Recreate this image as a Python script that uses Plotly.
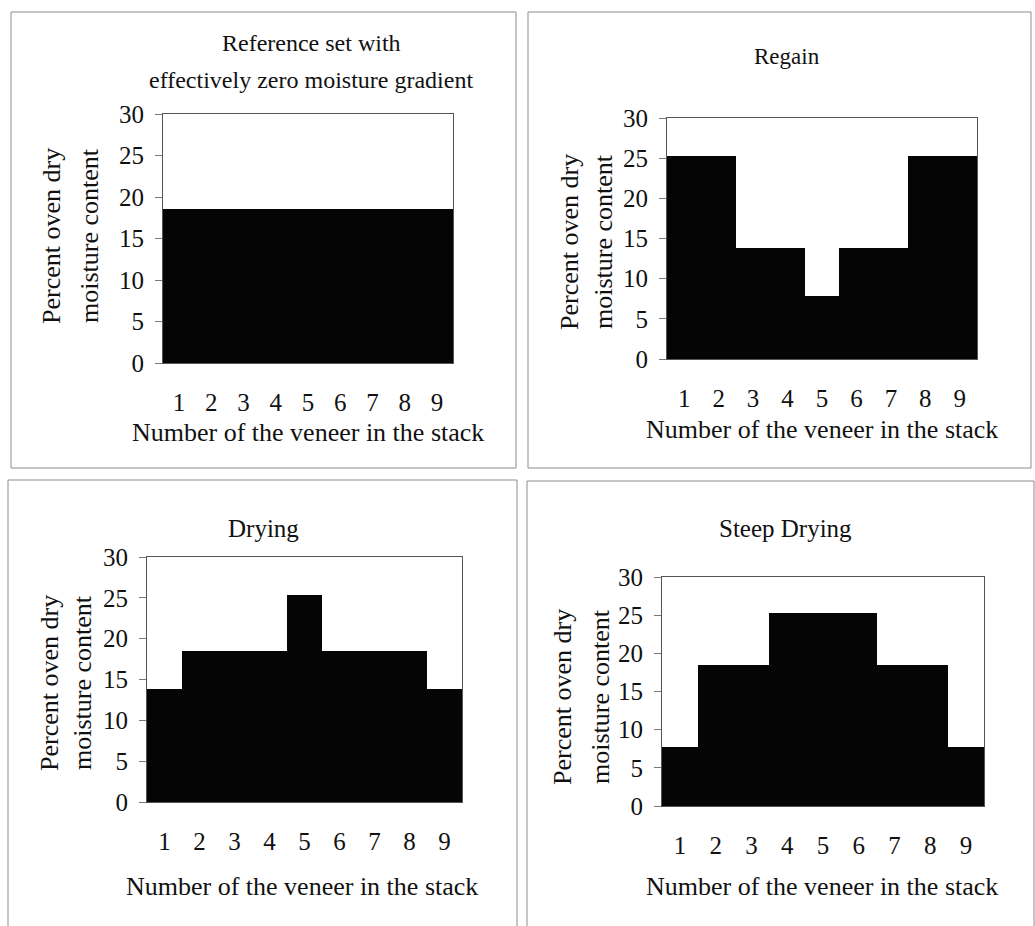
import plotly.graph_objects as go

# Moisture content (percent oven dry) of each veneer in a nine-veneer stack
veneer_number = [1, 2, 3, 4, 5, 6, 7, 8, 9]
reference_mc = [18.5, 18.5, 18.5, 18.5, 18.5, 18.5, 18.5, 18.5, 18.5]
regain_mc = [25.3, 25.3, 13.8, 13.8, 7.8, 13.8, 13.8, 25.3, 25.3]
drying_mc = [13.8, 18.5, 18.5, 18.5, 25.3, 18.5, 18.5, 18.5, 13.8]
steep_drying_mc = [7.7, 18.5, 18.5, 25.3, 25.3, 25.3, 18.5, 18.5, 7.7]
y_tick_values = [0, 5, 10, 15, 20, 25, 30]

W, H = 1035, 926
FONT = "Liberation Serif"
INK = "#111111"


def px(x):
    return x / W


def py(y):
    return 1 - y / H


# Per-panel geometry in pixels (frame bottom None = runs off the page)
panels = [
    dict(values=reference_mc,
         title=["Reference set with", "effectively zero moisture gradient"],
         title_y=[43, 80], title_x=311, title_size=24,
         frame=(11, 12, 516, 468),
         plot=(163, 114, 453, 363),
         ytitle_x=(52, 90), ytitle_y=236,
         xtitle=(308, 432)),
    dict(values=regain_mc,
         title=["Regain"], title_y=[57], title_x=787, title_size=23,
         frame=(528, 12, 1031, 468),
         plot=(667, 118, 977, 359),
         ytitle_x=(570, 604), ytitle_y=242,
         xtitle=(822, 430)),
    dict(values=drying_mc,
         title=["Drying"], title_y=[528], title_x=263, title_size=25,
         frame=(8, 480, 517, None),
         plot=(147, 557, 462, 802),
         ytitle_x=(49, 82), ytitle_y=683,
         xtitle=(302, 886)),
    dict(values=steep_drying_mc,
         title=["Steep Drying"], title_y=[528], title_x=785, title_size=25,
         frame=(527, 481, 1034, None),
         plot=(662, 577, 984, 806),
         ytitle_x=(562, 600), ytitle_y=697,
         xtitle=(822, 886)),
]

fig = go.Figure()
shapes = []
annotations = []


def frame_line(xa, ya, xb, yb):
    return dict(type="line", xref="paper", yref="paper",
                x0=px(xa), y0=py(ya), x1=px(xb), y1=py(yb),
                line=dict(color="#8c8c8c", width=1), layer="below")


for i, p in enumerate(panels, start=1):
    xa = "x" if i == 1 else f"x{i}"
    ya = "y" if i == 1 else f"y{i}"
    fig.add_trace(go.Bar(
        x=veneer_number, y=p["values"], xaxis=xa, yaxis=ya,
        marker=dict(color="#050505", line=dict(width=0)),
        width=1.0, showlegend=False, hoverinfo="x+y",
    ))
    x0, y0, x1, y1 = p["plot"]
    key = "" if i == 1 else str(i)
    fig.layout["xaxis" + key] = dict(
        domain=[px(x0), px(x1)], anchor=ya, range=[0.5, 9.5],
        tickvals=veneer_number, ticktext=[str(v) for v in veneer_number],
        ticks="", showgrid=False, zeroline=False, automargin=False,
        showline=True, mirror=True, linecolor="#555555", linewidth=1,
        ticklabelstandoff=17,
        tickfont=dict(family=FONT, size=25, color=INK),
    )
    fig.layout["yaxis" + key] = dict(
        domain=[py(y1), py(y0)], anchor=xa, range=[0, 30],
        tickvals=y_tick_values, ticks="outside", ticklen=7,
        tickcolor="#777777", tickwidth=1,
        showgrid=False, zeroline=False, automargin=False,
        showline=True, mirror=True, linecolor="#555555", linewidth=1,
        ticklabelstandoff=6,
        tickfont=dict(family=FONT, size=25, color=INK),
    )

    # panel frame (left, top, right and, when on the page, bottom)
    fx0, fy0, fx1, fy1 = p["frame"]
    bottom = fy1 if fy1 is not None else H
    shapes.append(frame_line(fx0, fy0, fx1, fy0))
    shapes.append(frame_line(fx0, fy0, fx0, bottom))
    shapes.append(frame_line(fx1, fy0, fx1, bottom))
    if fy1 is not None:
        shapes.append(frame_line(fx0, fy1, fx1, fy1))

    # panel title lines
    for line, ty in zip(p["title"], p["title_y"]):
        annotations.append(dict(text=line, x=px(p["title_x"]), y=py(ty),
                                xref="paper", yref="paper", showarrow=False,
                                xanchor="center", yanchor="middle",
                                font=dict(family=FONT, size=p["title_size"], color=INK)))

    # two-line vertical axis title
    for line, tx in zip(["Percent oven dry", "moisture content"], p["ytitle_x"]):
        annotations.append(dict(text=line, x=px(tx), y=py(p["ytitle_y"]),
                                xref="paper", yref="paper", showarrow=False,
                                textangle=-90, xanchor="center", yanchor="middle",
                                font=dict(family=FONT, size=26, color=INK)))

    # horizontal axis title
    annotations.append(dict(text="Number of the veneer in the stack",
                            x=px(p["xtitle"][0]), y=py(p["xtitle"][1]),
                            xref="paper", yref="paper", showarrow=False,
                            xanchor="center", yanchor="middle",
                            font=dict(family=FONT, size=26, color=INK)))

fig.update_layout(
    template="none",
    width=W, height=H, autosize=False,
    margin=dict(l=0, r=0, t=0, b=0, pad=0),
    paper_bgcolor="white", plot_bgcolor="white",
    bargap=0, shapes=shapes, annotations=annotations,
)

fig.write_html("out.html")
